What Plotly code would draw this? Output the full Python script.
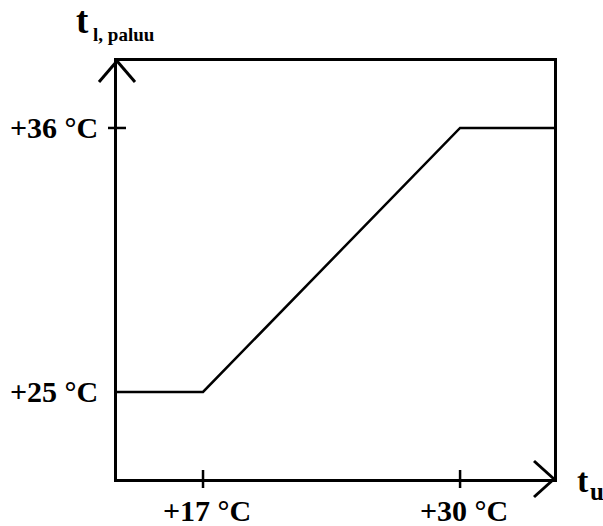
import plotly.graph_objects as go

# Data
outdoor_temp = [12.65, 17, 30, 34.75]      # t_u (°C)
return_temp = [25, 25, 36, 36]            # t_l, paluu (°C)
x_tick_vals = [17, 30]
x_tick_text = ["+17 °C", "+30 °C"]
y_tick_vals = [36, 25]
y_tick_text = ["+36 °C", "+25 °C"]
y_cross_ticks = [36]

X_RANGE = [12.65, 34.75]
Y_RANGE = [21.375, 38.79]

FONT = "Liberation Serif"
BLACK = "#000000"

fig = go.Figure()
fig.add_trace(go.Scatter(
    x=outdoor_temp, y=return_temp, mode="lines",
    line=dict(color=BLACK, width=2.5), hoverinfo="skip", showlegend=False,
    cliponaxis=False,
))

shapes = []
# tick marks crossing the x axis
for v in x_tick_vals:
    shapes.append(dict(type="line", xref="x", yref="paper", ysizemode="pixel",
                       yanchor=0, x0=v, x1=v, y0=-9, y1=9,
                       line=dict(color=BLACK, width=2.5)))
# tick marks crossing the y axis
for v in y_cross_ticks:
    shapes.append(dict(type="line", xref="paper", yref="y", xsizemode="pixel",
                       xanchor=0, x0=-9, x1=9, y0=v, y1=v,
                       line=dict(color=BLACK, width=2.5)))
# arrowhead at top of y axis
for dx in (-18, 18):
    shapes.append(dict(type="line", xref="paper", yref="paper",
                       xsizemode="pixel", ysizemode="pixel", xanchor=0, yanchor=1,
                       x0=dx, y0=-21, x1=0, y1=0,
                       line=dict(color=BLACK, width=3)))
# arrowhead at right of x axis
for dy in (-18, 18):
    shapes.append(dict(type="line", xref="paper", yref="paper",
                       xsizemode="pixel", ysizemode="pixel", xanchor=1, yanchor=0,
                       x0=-20, y0=dy, x1=0, y1=0,
                       line=dict(color=BLACK, width=3)))

annotations = []
for v, t in zip(x_tick_vals, x_tick_text):
    annotations.append(dict(x=v, y=0, xref="x", yref="paper", text=t,
                            showarrow=False, xanchor="center", yanchor="top",
                            xshift=4, yshift=-13,
                            font=dict(family=FONT, size=30, color=BLACK, weight="bold")))
for v, t in zip(y_tick_vals, y_tick_text):
    annotations.append(dict(x=0, y=v, xref="paper", yref="y", text=t,
                            showarrow=False, xanchor="right", yanchor="middle",
                            xshift=-17,
                            font=dict(family=FONT, size=30, color=BLACK, weight="bold")))
# axis titles
annotations.append(dict(x=0, y=1, xref="paper", yref="paper",
                        text="t<sub><span style='font-size:19px'> l, paluu</span></sub>",
                        showarrow=False, xanchor="left", yanchor="bottom",
                        xshift=-43, yshift=14,
                        font=dict(family=FONT, size=37, color=BLACK, weight="bold")))
annotations.append(dict(x=1, y=0, xref="paper", yref="paper", text="t",
                        showarrow=False, xanchor="left", yanchor="middle",
                        xshift=21, yshift=-1,
                        font=dict(family=FONT, size=34, color=BLACK, weight="bold")))
annotations.append(dict(x=1, y=0, xref="paper", yref="paper", text="u",
                        showarrow=False, xanchor="left", yanchor="middle",
                        xshift=34, yshift=-12,
                        font=dict(family=FONT, size=25, color=BLACK, weight="bold")))

axis_common = dict(showline=True, mirror=True, linecolor=BLACK, linewidth=3,
                   showgrid=False, zeroline=False, showticklabels=False, ticks="",
                   fixedrange=True)

fig.update_layout(
    width=603, height=526,
    margin=dict(l=117, r=49, t=61, b=47),
    paper_bgcolor="white", plot_bgcolor="white",
    xaxis=dict(range=X_RANGE, **axis_common),
    yaxis=dict(range=Y_RANGE, **axis_common),
    shapes=shapes, annotations=annotations,
    showlegend=False,
)

# remove the default 8px page margin so the figure fills the window exactly
fig.write_html("out.html",
               config={"displayModeBar": False, "staticPlot": True},
               post_script="document.body.style.margin='0px';document.body.style.overflow='hidden';")
